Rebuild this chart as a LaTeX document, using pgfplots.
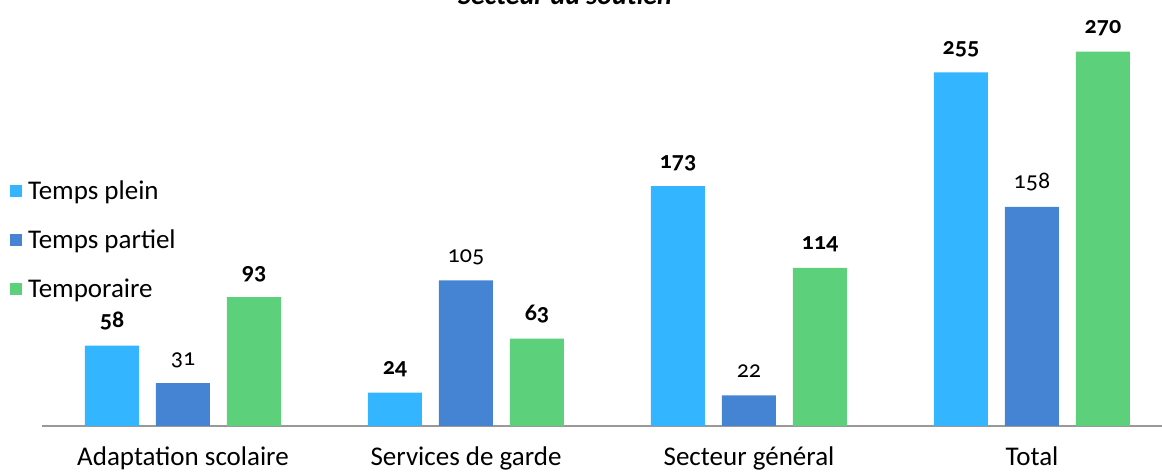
\documentclass[border=0pt]{standalone}
\usepackage{pgfplots}
\pgfplotsset{compat=1.18}
\usepackage{fontspec}
\setmainfont{Carlito}[Numbers=OldStyle]
\definecolor{cA}{HTML}{33B5FF}
\definecolor{cB}{HTML}{4584D3}
\definecolor{cC}{HTML}{5CD07B}
\begin{document}
\begin{tikzpicture}[x=1pt,y=1pt]
\begin{axis}[
  at={(0,0)}, anchor=origin,
  scale only axis, width=1132pt, height=416pt,
  xmin=-0.5, xmax=3.5, ymin=0, ymax=300,
  ybar=17pt, bar width=54pt,
  /pgf/number format/assume math mode=true,
  axis x line*=bottom, axis y line=none,
  x axis line style={draw=gray!80, line width=1.2pt, -},
  xtick={0,1,2,3}, major tick length=0pt,
  xticklabels={Adaptation scolaire, Services de garde, Secteur général, Total},
  xticklabel style={anchor=base, yshift=-40pt, font=\fontsize{27}{31}\selectfont},
  ytick=\empty,
  clip=false,
  legend style={at={(-0.028,0.595)}, anchor=north west, draw=none, fill=none,
    font=\fontsize{27}{31}\selectfont, row sep=25pt, cells={anchor=west},
    inner sep=0pt},
  legend cell align=left,
  legend image code/.code={\fill (0pt,-6pt) rectangle (12pt,6pt); \path (16pt,0pt);},
  nodes near coords,
]
\addplot[fill=cA, draw=none,
  nodes near coords style={font=\fontsize{24}{28}\selectfont\bfseries, anchor=base, yshift=18pt}]
  coordinates {(0,58) (1,24) (2,173) (3,255)};
\addplot[fill=cB, draw=none,
  nodes near coords style={font=\fontsize{24}{28}\selectfont, anchor=base, yshift=18pt}]
  coordinates {(0,31) (1,105) (2,22) (3,158)};
\addplot[fill=cC, draw=none,
  nodes near coords style={font=\fontsize{24}{28}\selectfont\bfseries, anchor=base, yshift=18pt}]
  coordinates {(0,93) (1,63) (2,114) (3,270)};
\legend{Temps plein, Temps partiel, Temporaire}
\end{axis}
\node[anchor=base, font=\fontsize{28}{32}\selectfont\bfseries\itshape] at (382pt,421pt) {Secteur du soutien};
\pgfresetboundingbox
\useasboundingbox (-183pt,-47pt) rectangle (979pt,426pt);
\end{tikzpicture}
\end{document}
